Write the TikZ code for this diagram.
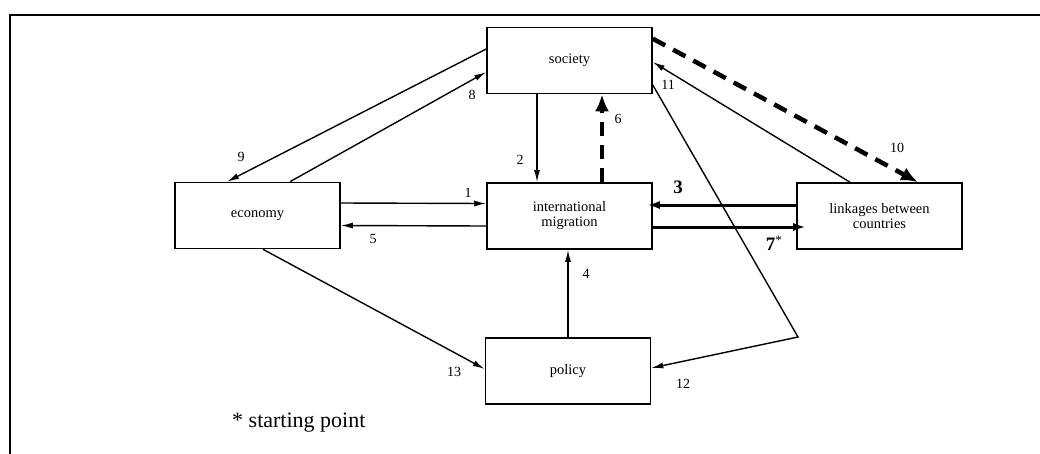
\documentclass[tikz,border=0pt]{standalone}
\usepackage{fontspec}
\setmainfont{Liberation Serif}
\usetikzlibrary{arrows.meta}
\tikzset{
  box/.style={draw, line width=1.6pt, minimum width=165pt, minimum height=66pt, inner sep=0pt, align=center, font=\fontsize{14.5}{15}\selectfont},
  conn/.style={line width=1.4pt, -{Latex[length=12pt,width=6pt]}},
  boldconn/.style={line width=3pt, -{Latex[length=13pt,width=8pt]}},
  dashconn/.style={line width=4.5pt, dash pattern=on 14pt off 9pt, -{Latex[length=17pt,width=14pt]}},
  num/.style={font=\fontsize{14}{14}\selectfont, inner sep=0pt},
  bnum/.style={font=\fontsize{19}{19}\selectfont\bfseries, inner sep=0pt}
}
\begin{document}
\begin{tikzpicture}[x=1pt,y=-1pt]
\useasboundingbox (0,0) rectangle (1040,453);
\draw[line width=2pt] (1045,15) -- (10,15) -- (10,460);

\node[box] (soc) at (569.5,60.5) {society};
\node[box] (econ) at (257.5,215.5) {economy};
\node[box] (migr) at (569.5,216) {international\\migration};
\node[box] (link) at (879.5,216) {linkages between\\countries};
\node[box] (pol) at (568,371) {policy};

\coordinate (bend) at (798,337);

% 1 and 5
\draw[conn] ([yshift=12.5pt]econ.east) -- ([yshift=12.5pt]migr.west);
\draw[conn] ([yshift=-10pt]migr.west) -- ([yshift=-10pt]econ.east);
% 2 and 6
\draw[conn] ([xshift=-32.5pt]soc.south) -- ([xshift=-32.5pt]migr.north);
\draw[dashconn] ([xshift=32.5pt]migr.north) -- ([xshift=32.5pt]soc.south);
% 3 and 7
\draw[boldconn] ([yshift=11pt]link.west) -- ([yshift=11pt,xshift=-6pt]migr.east);
\draw[boldconn] ([yshift=-11pt]migr.east) -- ([yshift=-11pt,xshift=10pt]link.west);
% 4
\draw[conn] (pol.north) -- (pol.north |- migr.south);
% 8 and 9
\draw[conn] ([xshift=32.5pt]econ.north) -- ([yshift=-11.5pt]soc.west);
\draw[conn] ([yshift=11.5pt]soc.west) -- ([xshift=-30.5pt]econ.north);
% 10
\draw[dashconn] ([yshift=-12pt]soc.north east) -- ([xshift=38.5pt]link.north);
% 11
\draw[conn] ([xshift=-29.5pt]link.north) -- ([yshift=-1.5pt]soc.east);
% 12
\draw[conn] ([yshift=-24.5pt]soc.east) -- (bend) -- ([yshift=3pt]pol.east);
% 13
\draw[conn] ([xshift=5.5pt]econ.south) -- ([yshift=2pt]pol.west);

% labels
\node[num] (l1) at (468,193) {1};
\node[num] (l2) at (520,160) {2};
\node[bnum] (l3) at (678,187) {3};
\node[num] (l4) at (586,274) {4};
\node[num] (l5) at (373,239) {5};
\node[num] (l6) at (618,119) {6};
\node[bnum] (l7) at (774,243) {7\textsuperscript{\normalfont\fontsize{13}{13}\selectfont *}};
\node[num] (l8) at (472,95) {8};
\node[num] (l9) at (241,157) {9};
\node[num] (l10) at (897,148) {10};
\node[num] (l11) at (668,85) {11};
\node[num] (l12) at (683,384) {12};
\node[num] (l13) at (454,372) {13};
\node[font=\fontsize{22}{22}\selectfont, anchor=west, inner sep=0pt] (start) at (232,423) {* starting point};
\end{tikzpicture}
\end{document}
